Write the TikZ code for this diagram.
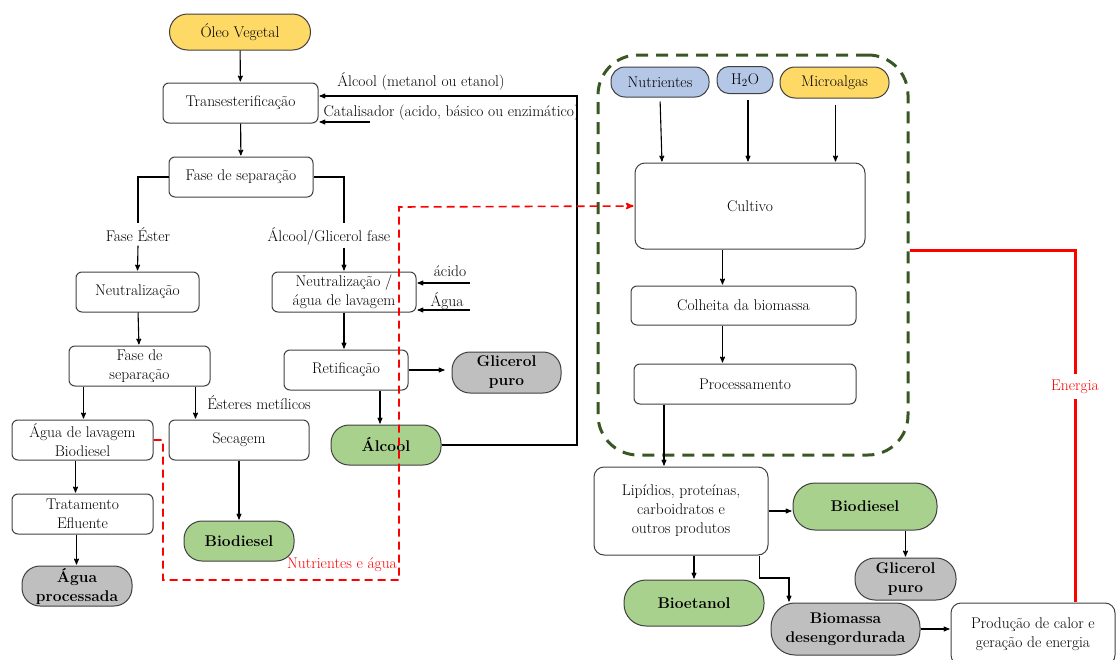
\documentclass[tikz,border=0pt]{standalone}
\usepackage{xcolor}
\usetikzlibrary{positioning}
\usetikzlibrary{arrows}
\usetikzlibrary{calc}

\definecolor{oilyellow}{RGB}{255,217,102}
\definecolor{prodgreen}{RGB}{169,209,142}
\definecolor{wastegray}{RGB}{191,191,191}
\definecolor{inputblue}{RGB}{180,199,231}
\definecolor{framegreen}{RGB}{56,87,35}
\definecolor{boxline}{RGB}{64,64,64}

\begin{document}
\begin{tikzpicture}[x=1pt,y=-1pt,>=stealth',shorten >=1pt,
                    font=\rmfamily\fontsize{15.5}{19}\selectfont,
                    box node/.style={draw=boxline,line width=1pt,rounded corners=6pt,inner sep=0pt,align=center},
                    pill node/.style={draw=boxline,line width=1pt,rounded corners=18pt,inner sep=0pt,align=center,font=\rmfamily\fontsize{15.5}{19}\selectfont\bfseries},
                    flow/.style={->,line width=1.1pt},
                    feed/.style={->,red,line width=1.6pt,dash pattern=on 8pt off 5pt},
                    energy/.style={red,line width=3pt}]
\useasboundingbox (0,0) rectangle (1117,659);

% biodiesel a partir de oleo vegetal
\node[pill node,fill=oilyellow,minimum width=141,minimum height=36,font=\rmfamily\fontsize{15.5}{19}\selectfont] (oleo) at (240,32) {Óleo Vegetal};
\node[box node,minimum width=155,minimum height=40] (trans) at (240.5,103) {Transesterificação};
\node[box node,minimum width=144,minimum height=40] (fase1) at (241,177) {Fase de separação};
\node (ester) at (138,235) {Fase Éster};
\node (alcgli) at (329,236) {Álcool/Glicerol fase};
\node[box node,minimum width=123,minimum height=40] (neut1) at (137.5,292) {Neutralização};
\node[box node,minimum width=141,minimum height=40] (fase2) at (139.5,366) {Fase de\\separação};
\node[box node,minimum width=141,minimum height=40] (agua) at (82.5,440) {Água de lavagem\\Biodiesel};
\node[box node,minimum width=140,minimum height=40] (secagem) at (239,440) {Secagem};
\node[box node,minimum width=141,minimum height=40] (trat) at (82.5,514) {Tratamento\\Efluente};
\node[pill node,fill=wastegray,minimum width=110,minimum height=40] (aguaproc) at (77,586) {Água\\processada};
\node[pill node,fill=prodgreen,minimum width=110,minimum height=40] (bio1) at (239,541) {Biodiesel};
\node[box node,minimum width=144,minimum height=40] (neut2) at (344,292) {Neutralização /\\água de lavagem};
\node[box node,minimum width=124,minimum height=40] (retif) at (346,370) {Retificação};
\node[pill node,fill=wastegray,minimum width=109,minimum height=41] (glic1) at (506.5,372.5) {Glicerol\\puro};
\node[pill node,fill=prodgreen,minimum width=110,minimum height=40] (alcool) at (386,445) {Álcool};

\node (alcin) at (421,81) {Álcool (metanol ou etanol)};
\node[anchor=west] (catin) at (320,113) {Catalisador (acido, básico ou enzimático)};
\node (esteres) at (259,403) {Ésteres metílicos};
\node (acido) at (450,271) {ácido};
\node (aguain) at (447,301) {Água};
\node[text=red] (nutragua) at (342,565) {Nutrientes e água};

\coordinate (ret) at (577,96);
\coordinate (catstart) at (370,122);
\coordinate (acstart) at (470,283);
\coordinate (agstart) at (470,310);

\draw[flow] (oleo) -- (trans);
\draw[flow] (trans) -- (fase1);
\draw[line width=1.1pt] (fase1.west) -| (ester.north);
\draw[flow] (ester.south) -- (neut1.north);
\draw[line width=1.1pt] (fase1.east) -| (alcgli.north -| neut2.north);
\draw[flow] (alcgli.south -| neut2.north) -- (neut2.north);
\draw[flow] (neut1) -- (fase2);
\draw[flow] ([xshift=-56pt]fase2.south) -- ([xshift=-56pt]fase2.south |- agua.north);
\draw[flow] ([xshift=56pt]fase2.south) -- ([xshift=56pt]fase2.south |- secagem.north);
\draw[flow] ([xshift=-7pt]agua.south) -- ([xshift=-7pt]agua.south |- trat.north);
\draw[flow] ([xshift=-6pt]trat.south) -- ([xshift=-6pt]trat.south |- aguaproc.north);
\draw[flow] (secagem) -- (bio1);
\draw[flow] (acstart) -- (acstart -| neut2.east);
\draw[flow] (agstart) -- (agstart -| neut2.east);
\draw[flow] (neut2.south) -- (neut2.south |- retif.north);
\draw[flow] (retif.east) -- ([xshift=-6pt]glic1.west |- retif.east);
\draw[flow] ([xshift=-6pt]alcool.north |- retif.south) -- ([xshift=-6pt]alcool.north);
\draw[flow] (alcool.east) -| (ret) -- ([yshift=7pt]trans.east);
\draw[flow] (catstart) -- (catstart -| trans.east);

% cultivo de microalgas
\node[draw=framegreen,line width=3pt,dash pattern=on 12pt off 8pt,rounded corners=40pt,minimum width=310,minimum height=400] (frame) at (753,255) {};
\node[pill node,fill=inputblue,rounded corners=14pt,minimum width=98,minimum height=30,font=\rmfamily\fontsize{15.5}{19}\selectfont] (nutr) at (660,82) {Nutrientes};
\node[pill node,fill=inputblue,rounded corners=12pt,minimum width=56,minimum height=27,font=\rmfamily\fontsize{15.5}{19}\selectfont] (h2o) at (745,80) {H\textsubscript{2}O};
\node[pill node,fill=oilyellow,rounded corners=15pt,minimum width=109,minimum height=31,font=\rmfamily\fontsize{15.5}{19}\selectfont] (micro) at (834.5,82.5) {Microalgas};
\node[box node,rounded corners=10pt,minimum width=230,minimum height=86] (cultivo) at (750,206) {Cultivo};
\node[box node,minimum width=225,minimum height=39] (colheita) at (743.5,305.5) {Colheita da biomassa};
\node[box node,minimum width=222,minimum height=40] (proc) at (745,384) {Processamento};
\node[box node,rounded corners=10pt,minimum width=174,minimum height=88] (lip) at (681,511) {Lipídios, proteínas,\\carboidratos e\\outros produtos};
\node[pill node,fill=prodgreen,rounded corners=22pt,minimum width=144,minimum height=47] (bio2) at (865,506.5) {Biodiesel};
\node[pill node,fill=wastegray,rounded corners=20pt,minimum width=101,minimum height=42] (glic2) at (905.5,579) {Glicerol\\puro};
\node[pill node,fill=prodgreen,rounded corners=22pt,minimum width=140,minimum height=46] (bioet) at (694,603) {Bioetanol};
\node[pill node,fill=wastegray,rounded corners=24pt,minimum width=149,minimum height=52] (biomassa) at (845.5,629) {Biomassa\\desengordurada};
\node[box node,rounded corners=10pt,minimum width=164,minimum height=62] (prod) at (1033,634) {Produção de calor e\\geração de energia};
\node[text=red,inner sep=5pt] (energia) at (1075,387) {Energia};

\coordinate (bm1) at (789,578);
\coordinate (en1) at (1075,250);

\draw[flow,shorten <=4pt] (nutr.south) -- ([xshift=2pt]nutr.south |- cultivo.north);
\draw[flow,shorten <=6pt] ([xshift=3pt]h2o.south) -- ([xshift=3pt]h2o.south |- cultivo.north);
\draw[flow,shorten <=6pt] ([xshift=1pt]micro.south) -- ([xshift=1pt]micro.south |- cultivo.north);
\draw[flow] ([xshift=-21pt]colheita.north |- cultivo.south) -- ([xshift=-21pt]colheita.north);
\draw[flow] ([xshift=-21pt]colheita.south) -- ([xshift=-21pt]colheita.south |- proc.north);
\draw[flow] ([xshift=-81pt]proc.south) -- ([xshift=-81pt]proc.south |- lip.north);
\draw[flow] (lip.east) -- (lip.east -| bio2.west);
\draw[flow] (glic2.north |- bio2.south) -- (glic2.north);
\draw[flow] (bioet.north |- lip.south) -- (bioet.north);
\draw[flow] ([xshift=-9pt]lip.south east) |- (bm1) -- (bm1 |- biomassa.north);
\draw[flow] (biomassa.east) -- (biomassa.east -| prod.west);

% ligacoes entre os dois processos
\draw[feed] (agua.east) -| (163,580) -| (399,207) -- (cultivo.west);
\draw[energy] (frame.east |- en1) -- (en1) -- (energia.north);
\draw[energy] (energia.south) -- (energia.south |- prod.north);

\end{tikzpicture}
\end{document}
